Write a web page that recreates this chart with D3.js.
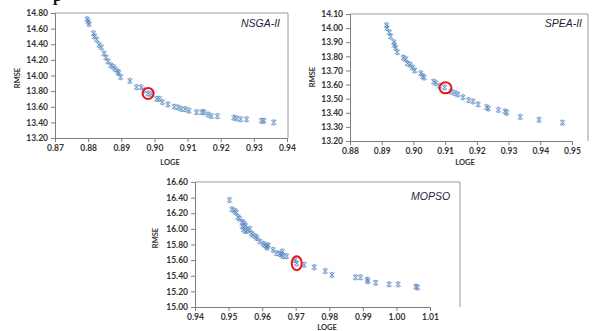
<!DOCTYPE html>
<html><head><meta charset="utf-8">
<script src="https://cdn.jsdelivr.net/npm/d3@7"></script>
<style>body{margin:0;background:#fff}svg{display:block}</style>
</head><body>
<svg id="c" width="594" height="331"></svg>
<script>
// ---- data ----
const nsgaLoge = [0.8797,0.8800,0.8803,0.8816,0.8819,0.8826,0.8833,0.8840,0.8848,0.8854,0.8860,0.8868,0.8876,0.8882,0.8890,0.8892,0.8898,0.8926,0.8946,0.8960,0.8969,0.8981,0.8991,0.9007,0.9015,0.9024,0.9041,0.9060,0.9072,0.9082,0.9093,0.9104,0.9127,0.9143,0.9150,0.9162,0.9172,0.9190,0.9240,0.9248,0.9260,0.9278,0.9323,0.9330,0.9360];
const nsgaRmse = [14.72,14.69,14.66,14.54,14.50,14.46,14.39,14.36,14.28,14.23,14.18,14.13,14.11,14.08,14.05,14.03,13.98,13.93,13.85,13.85,13.81,13.77,13.76,13.70,13.70,13.66,13.63,13.60,13.59,13.57,13.57,13.55,13.53,13.53,13.53,13.50,13.48,13.48,13.46,13.45,13.44,13.44,13.42,13.42,13.40];
const speaLoge = [0.8915,0.8917,0.8924,0.8928,0.8938,0.8940,0.8944,0.8949,0.8968,0.8976,0.8981,0.8990,0.8997,0.9004,0.9023,0.9029,0.9034,0.9064,0.9071,0.9082,0.9098,0.9119,0.9130,0.9140,0.9156,0.9174,0.9188,0.9204,0.9231,0.9236,0.9268,0.9289,0.9294,0.9337,0.9396,0.9470];
const speaRmse = [14.02,14.00,13.97,13.94,13.90,13.88,13.86,13.83,13.79,13.78,13.75,13.74,13.72,13.70,13.68,13.66,13.65,13.62,13.61,13.59,13.58,13.55,13.54,13.53,13.51,13.49,13.48,13.46,13.44,13.43,13.42,13.41,13.40,13.37,13.35,13.33];
const mopsoLoge = [0.9503,0.9510,0.9518,0.9523,0.9528,0.9533,0.9541,0.9546,0.9551,0.9541,0.9545,0.9551,0.9557,0.9563,0.9568,0.9573,0.9581,0.9585,0.9593,0.9603,0.9608,0.9613,0.9615,0.9618,0.9633,0.9643,0.9653,0.9658,0.9663,0.9660,0.9673,0.9698,0.9703,0.9725,0.9755,0.9788,0.9808,0.9878,0.9893,0.9913,0.9915,0.9938,0.9978,1.0005,1.0058,1.0063];
const mopsoRmse = [16.37,16.25,16.23,16.21,16.15,16.13,16.09,16.07,16.04,16.03,15.99,15.97,15.98,16.00,15.94,15.92,15.90,15.88,15.84,15.81,15.79,15.78,15.76,15.79,15.73,15.69,15.68,15.67,15.65,15.71,15.65,15.60,15.56,15.54,15.51,15.46,15.41,15.38,15.38,15.35,15.33,15.31,15.29,15.29,15.26,15.25];
const nsgaXTicks = [0.87,0.88,0.89,0.90,0.91,0.92,0.93,0.94];
const nsgaYTicks = [13.20,13.40,13.60,13.80,14.00,14.20,14.40,14.60,14.80];
const speaXTicks = [0.88,0.89,0.90,0.91,0.92,0.93,0.94,0.95];
const speaYTicks = [13.20,13.30,13.40,13.50,13.60,13.70,13.80,13.90,14.00,14.10];
const mopsoXTicks = [0.94,0.95,0.96,0.97,0.98,0.99,1.00,1.01];
const mopsoYTicks = [15.00,15.20,15.40,15.60,15.80,16.00,16.20,16.40,16.60];
const selected = {nsga:[0.8981,13.77], spea:[0.9101,13.577], mopso:[0.9703,15.56]};
const titles = {nsga:"NSGA-II", spea:"SPEA-II", mopso:"MOPSO"};

const svg = d3.select("#c");
const FONT = "Lato, 'Liberation Sans', Arial, sans-serif";

// cut-off heading glyph at the very top (as in the source page)
svg.append("text").attr("x",53).attr("y",0.5).attr("font-family","'Liberation Serif',serif")
  .attr("font-weight","bold").attr("font-size",16).attr("fill","#111").text("p");

function drawChart(o){
  const x = d3.scaleLinear().domain(o.xd).range([o.l, o.r]);
  const y = d3.scaleLinear().domain(o.yd).range([o.b, o.t]);
  const g = svg.append("g");
  g.append("path").attr("d",`M${o.l},${o.t}H${o.boxR}V${o.b}`).attr("fill","none")
    .attr("stroke","#9a9a9a").attr("stroke-width",1);
  const fmt = d3.format(".2f");
  const ya = g.append("g").attr("transform",`translate(${o.l},0)`)
    .call(d3.axisLeft(y).tickValues(o.yt).tickFormat(fmt).tickSize(4).tickPadding(3));
  const xa = g.append("g").attr("transform",`translate(0,${o.b})`)
    .call(d3.axisBottom(x).tickValues(o.xt).tickFormat(fmt).tickSize(4).tickPadding(3));
  [ya,xa].forEach(a=>{
    a.select(".domain").attr("stroke","#7f7f7f");
    a.selectAll(".tick line").attr("stroke","#7f7f7f");
    a.selectAll("text").attr("font-family",FONT).attr("font-weight","bold")
      .attr("font-size",8.5).attr("fill","#333");
  });
  g.append("text").attr("x",o.xtX).attr("y",o.xtY).attr("text-anchor","middle")
    .attr("font-family",FONT).attr("font-weight","bold").attr("font-size",7.5).attr("fill","#333").text("LOGE");
  g.append("text").attr("transform",`translate(${o.ytX},${o.ytY}) rotate(-90)`).attr("text-anchor","middle")
    .attr("font-family",FONT).attr("font-weight","bold").attr("font-size",7.5).attr("fill","#333").text("RMSE");
  const pts = o.xs.map((v,i)=>[v,o.ys[i]]);
  const s = 2.3;
  const cross = `M${-s},${-s}L${s},${s}M${-s},${s}L${s},${-s}M${-s*0.5},${-s}H${s*0.5}M${-s*0.5},${s}H${s*0.5}`;
  const mk = g.append("g");
  mk.selectAll("path.h").data(pts).join("path").attr("class","h")
    .attr("transform",d=>`translate(${x(d[0])},${y(d[1])})`)
    .attr("d",cross).attr("fill","none").attr("stroke","#c3d5ec").attr("stroke-width",2.2).attr("opacity",0.55);
  mk.selectAll("path.m").data(pts).join("path").attr("class","m")
    .attr("transform",d=>`translate(${x(d[0])},${y(d[1])})`)
    .attr("d",cross).attr("fill","none").attr("stroke","#4f81bd").attr("stroke-width",1).attr("opacity",0.8);
  g.append("ellipse").attr("cx",x(o.sel[0])).attr("cy",y(o.sel[1])).attr("rx",o.crx).attr("ry",o.cry)
    .attr("fill","none").attr("stroke","#e8141b").attr("stroke-width",2);
  g.append("text").attr("x",o.tiX).attr("y",o.tiY).attr("text-anchor",o.tiA)
    .attr("font-family","'Liberation Sans',Arial,sans-serif").attr("font-style","italic")
    .attr("font-size",10.5).attr("fill","#1d1d3a").text(o.title);
}

drawChart({xs:nsgaLoge, ys:nsgaRmse, xd:[0.87,0.94], yd:[13.2,14.8], xt:nsgaXTicks, yt:nsgaYTicks,
  l:55, r:287, boxR:288, t:13, b:138, sel:selected.nsga, crx:5.5, cry:5.5,
  xtX:170, xtY:165, ytX:20, ytY:78, tiX:280, tiY:27, tiA:"end", title:titles.nsga});
drawChart({xs:speaLoge, ys:speaRmse, xd:[0.88,0.95], yd:[13.2,14.1], xt:speaXTicks, yt:speaYTicks,
  l:350, r:572, boxR:588, t:14, b:141, sel:selected.spea, crx:6, cry:5.5,
  xtX:465, xtY:165, ytX:315, ytY:77, tiX:582, tiY:27, tiA:"end", title:titles.spea});
drawChart({xs:mopsoLoge, ys:mopsoRmse, xd:[0.94,1.01], yd:[15.0,16.6], xt:mopsoXTicks, yt:mopsoYTicks,
  l:195, r:430, boxR:460, t:182, b:307, sel:selected.mopso, crx:5, cry:7,
  xtX:327, xtY:330, ytX:158, ytY:238, tiX:411, tiY:200, tiA:"start", title:titles.mopso});
</script>
</body></html>
